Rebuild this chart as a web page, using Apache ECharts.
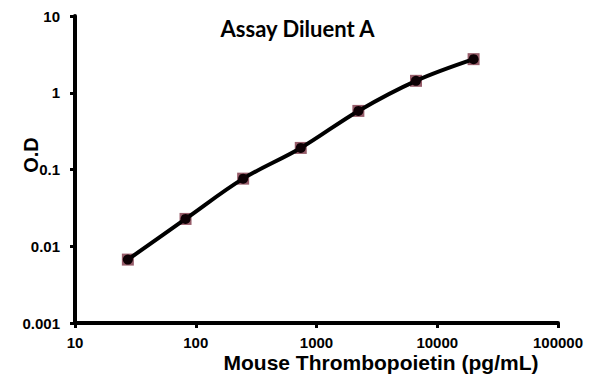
<!DOCTYPE html>
<html>
<head>
<meta charset="utf-8">
<script src="https://cdn.jsdelivr.net/npm/echarts@6/dist/echarts.min.js"></script>
<style>html,body{margin:0;padding:0;background:#fff}#c{width:595px;height:384px}</style>
</head>
<body>
<div id="c"></div>
<script>
var concentrations = [27.4, 82.3, 246.9, 740.7, 2222, 6667, 20000];
var odValues = [0.0067, 0.0227, 0.076, 0.191, 0.58, 1.43, 2.74];
var xTicks = [10, 100, 1000, 10000, 100000];
var yTicks = [0.001, 0.01, 0.1, 1, 10];
var titleText = 'Assay Diluent A';
var xTitle = 'Mouse Thrombopoietin (pg/mL)';
var yTitle = 'O.D';

var points = concentrations.map(function (c, i) { return [c, odValues[i]]; });
var chart = echarts.init(document.getElementById('c'), null, {renderer: 'svg'});
var lblStyle = {color: '#000', fontFamily: 'Liberation Sans', fontWeight: 'bold', fontSize: 15};
chart.setOption({
  animation: false,
  backgroundColor: '#fff',
  title: {
    text: titleText, left: 'center', top: 12,
    textStyle: {fontFamily: 'Lato', fontWeight: 'bold', fontSize: 22, color: '#000'}
  },
  grid: {left: 75, right: 37, top: 16, bottom: 61, containLabel: false},
  xAxis: {
    type: 'log', logBase: 10, min: xTicks[0], max: xTicks[xTicks.length - 1],
    axisLine: {lineStyle: {color: '#000', width: 4}},
    axisTick: {show: true, length: 5, lineStyle: {color: '#000', width: 3}},
    minorTick: {show: false},
    splitLine: {show: false},
    axisLabel: Object.assign({margin: 12, formatter: function (v) { return String(v); }}, lblStyle)
  },
  yAxis: {
    type: 'log', logBase: 10, min: yTicks[0], max: yTicks[yTicks.length - 1],
    axisLine: {lineStyle: {color: '#000', width: 4}},
    axisTick: {show: true, length: 5, lineStyle: {color: '#000', width: 3}},
    minorTick: {show: false},
    splitLine: {show: false},
    axisLabel: Object.assign({margin: 15, formatter: function (v) { return String(+v.toPrecision(3)); }}, lblStyle)
  },
  graphic: [
    {type: 'text', x: 381, y: 362, style: {text: xTitle, align: 'center', verticalAlign: 'middle',
      fontFamily: 'Liberation Sans', fontWeight: 'bold', fontSize: 21, fill: '#000'}},
    {type: 'text', x: 31, y: 155, rotation: Math.PI / 2, style: {text: yTitle, align: 'center', verticalAlign: 'middle',
      fontFamily: 'Liberation Sans', fontWeight: 'bold', fontSize: 20, fill: '#000'}}
  ],
  series: [
    {
      type: 'scatter', data: points, symbol: 'rect', symbolSize: 12,
      itemStyle: {color: '#7d3445'}, z: 2
    },
    {
      type: 'line', data: points, smooth: 0.35, symbol: 'circle', symbolSize: 10,
      lineStyle: {color: '#000', width: 4}, itemStyle: {color: '#0d0004'}, z: 3
    }
  ]
});
</script>
</body>
</html>
